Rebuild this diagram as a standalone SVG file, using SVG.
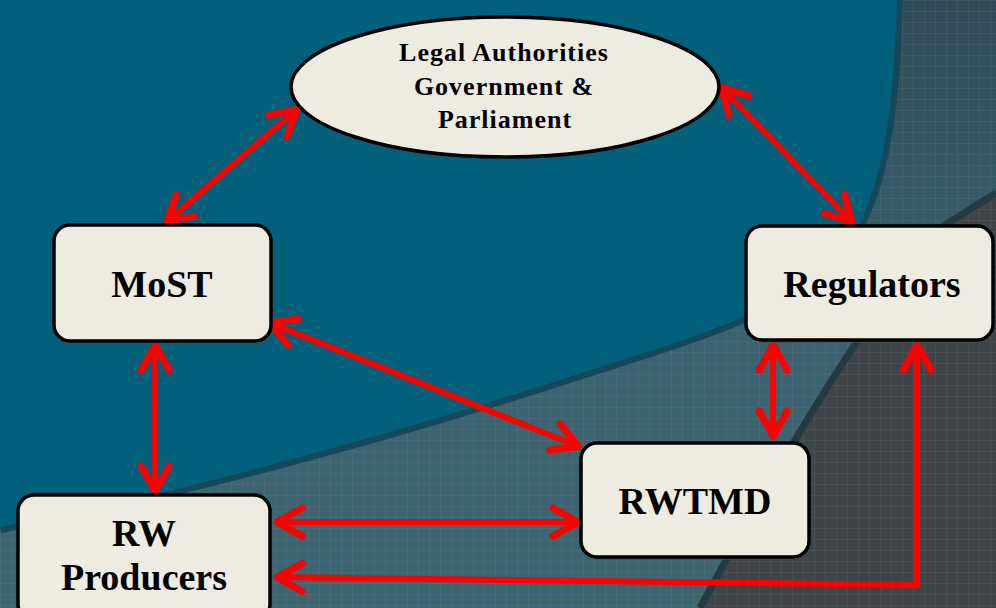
<svg xmlns="http://www.w3.org/2000/svg" width="996" height="608" viewBox="0 0 996 608">
  <style>
    .box { fill: #eeece1; stroke: #000; stroke-width: 3.5; }
    .shadow { fill: #4a4a4a; opacity: 0.55; }
    .lbl { font-family: "Liberation Serif", "Times New Roman", serif; font-weight: bold; fill: #000; text-anchor: middle; }
    .big { font-size: 38px; }
    .small { font-size: 26px; letter-spacing: 1px; }
    .link { fill: none; stroke: #ff0000; stroke-width: 6; stroke-linejoin: miter; marker-start: url(#head); marker-end: url(#head); }
  </style>
  <defs>
    <marker id="head" markerUnits="userSpaceOnUse" orient="auto-start-reverse" overflow="visible" refX="0" refY="0" markerWidth="40" markerHeight="40">
      <path d="M-27,-14 L-2,0 L-27,14" fill="none" stroke="#ff0000" stroke-width="7" stroke-linecap="round" stroke-linejoin="round"/>
    </marker>
    <pattern id="grid" width="11" height="11" patternUnits="userSpaceOnUse">
      <path d="M0,0.5 H11 M0.5,0 V11" stroke="#8a8a8a" stroke-width="1" opacity="0.16" fill="none"/>
    </pattern>
    <linearGradient id="band" x1="0" y1="0" x2="0" y2="1">
      <stop offset="0" stop-color="#2e4c56"/>
      <stop offset="0.55" stop-color="#3a6270"/>
      <stop offset="1" stop-color="#3d6571"/>
    </linearGradient>
  </defs>

  <!-- background panels -->
  <g id="background">
    <rect x="0" y="0" width="996" height="608" fill="url(#band)"/>
    <path d="M996,193 L945,225 Q850,330 700,608 L996,608 Z" fill="#3e4447"/>
    <rect x="0" y="0" width="996" height="608" fill="url(#grid)"/>
    <path d="M996,193 L945,225 Q850,330 700,608" fill="none" stroke="#263a41" stroke-width="7"/>
    <path d="M897,0 C893,110 885,210 830,265 C770,320 650,350 560,380 C420,425 200,490 0,527" fill="none" stroke="#16475a" stroke-width="12"/>
    <path d="M0,0 H897 C893,110 885,210 830,265 C770,320 650,350 560,380 C420,425 200,490 0,527 Z" fill="#03607a"/>
  </g>

  <!-- connectors -->
  <g id="connectors">
    <line class="link" x1="298" y1="108" x2="165" y2="223"/>
    <line class="link" x1="720" y1="86" x2="853" y2="223"/>
    <line class="link" x1="268" y1="322" x2="580" y2="447"/>
    <line class="link" x1="155" y1="343" x2="155" y2="493"/>
    <line class="link" x1="773" y1="343" x2="773" y2="438"/>
    <line class="link" x1="275" y1="522" x2="580" y2="522"/>
    <polyline class="link" points="275,577 917,585 917,343"/>
  </g>

  <g id="legal-authorities">
    <ellipse cx="505" cy="87" rx="214" ry="70" class="box"/>
    <text class="lbl small" x="504" y="61">Legal Authorities</text>
    <text class="lbl small" x="504" y="95">Government &amp;</text>
    <text class="lbl small" x="505" y="128">Parliament</text>
  </g>

  <g id="most">
    <rect x="55" y="228" width="217" height="116" rx="16" class="shadow"/>
    <rect x="54" y="225" width="217" height="116" rx="16" class="box"/>
    <text class="lbl big" x="162" y="297">MoST</text>
  </g>

  <g id="regulators">
    <rect x="747" y="229" width="247" height="114" rx="16" class="shadow"/>
    <rect x="746" y="226" width="247" height="114" rx="16" class="box"/>
    <text class="lbl big" x="872" y="297">Regulators</text>
  </g>

  <g id="rwtmd">
    <rect x="582" y="446" width="228" height="114" rx="16" class="shadow"/>
    <rect x="581" y="443" width="228" height="114" rx="16" class="box"/>
    <text class="lbl big" x="695" y="514">RWTMD</text>
  </g>

  <g id="rw-producers">
    <rect x="19" y="498" width="252" height="125" rx="16" class="shadow"/>
    <rect x="18" y="495" width="252" height="125" rx="16" class="box"/>
    <text class="lbl big" x="144" y="546">RW</text>
    <text class="lbl big" x="144" y="590">Producers</text>
  </g>
</svg>
